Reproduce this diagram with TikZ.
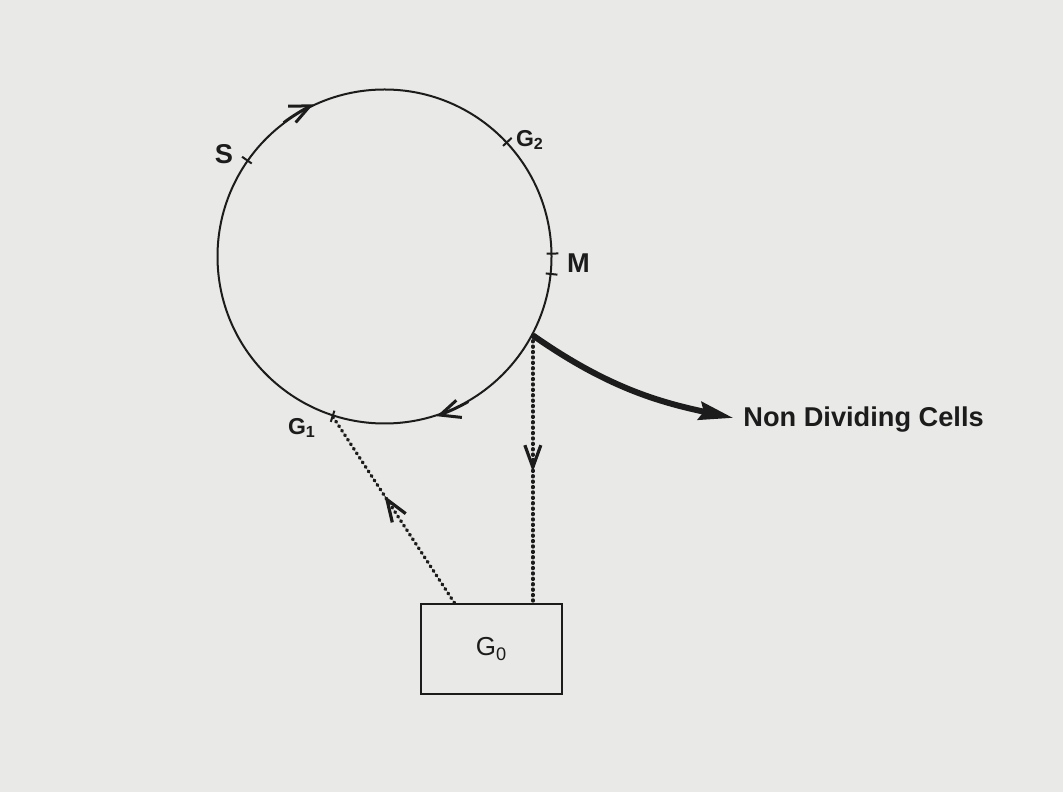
\documentclass[tikz,border=0pt]{standalone}
\usepackage{fontspec}
\setmainfont{Liberation Sans}
\usetikzlibrary{arrows.meta,calc,decorations.markings}
\definecolor{paper}{RGB}{233,233,231}
\definecolor{ink}{RGB}{28,28,28}

\begin{document}
\begin{tikzpicture}[
        x=0.5pt, y=0.5pt,
        phase/.style={circle, draw=ink, line width=1pt, minimum size=167pt, inner sep=0pt},
        tickmark/.style={draw=ink, line width=1pt},
        phasetext/.style={text=ink, inner sep=0pt, font=\fontsize{13.6}{16}\selectfont\bfseries},
        gtext/.style={text=ink, inner sep=0pt, font=\fontsize{11.5}{14}\selectfont\bfseries},
        restbox/.style={draw=ink, line width=1pt, minimum width=70.5pt, minimum height=45pt, text=ink, font=\fontsize{13}{15}\selectfont},
        cyclearrow/.style={draw=ink, line width=1pt, -{Straight Barb[length=10pt, width=9pt, line width=1.5pt]}},
        dotline/.style={draw=ink, line width=1.7pt, line cap=round, dash pattern=on 0.5pt off 2.2pt},
        midarrow/.style={postaction={decorate}, decoration={markings,
            mark=at position #1 with {\arrow[solid]{Straight Barb[length=11pt, width=8pt, line width=1.6pt]}}}},
        exitarrow/.style={draw=ink, line width=3pt, shorten >=5pt, -{Stealth[length=17pt, width=9pt, inset=2pt]}}
    ]
        % Page
        \fill[paper] (0,0) rectangle (1063,792);
        \useasboundingbox (0,0) rectangle (1063,792);

        % Cell cycle
        \node[phase] (cycle) at (384.5,535.5) {};
        \foreach \a in {145.6,43,1,-6.5,-108}
            \draw[tickmark] ($(cycle.center)!0.965!(cycle.\a)$) -- ($(cycle.center)!1.035!(cycle.\a)$);
        \draw[cyclearrow] (cycle.127) arc[start angle=127, end angle=115, radius=167];
        \draw[cyclearrow] (cycle.-60) arc[start angle=-60, end angle=-72, radius=167];

        % Phase labels
        \node[phasetext] (s) at (224,638) {S};
        \node[gtext] (g2) at (530,652) {G\textsubscript{2}};
        \node[phasetext] (m) at (578.5,529) {M};
        \node[gtext] (g1) at (302,364) {G\textsubscript{1}};

        % Resting state and exit
        \node[restbox] (g0) at (491.5,143) {G\textsubscript{0}};
        \node[phasetext, anchor=west] (ndc) at (743,372) {Non Dividing Cells};
        \coordinate (g0in) at ($(g0.north west)!0.241!(g0.north east)$);

        % Transitions
        \draw[exitarrow] (cycle.-28) to[out=-35, in=168] (ndc.west);
        \draw[dotline, midarrow=0.51] (cycle.-28) -- (cycle.-28 |- g0.north);
        \draw[dotline, midarrow=0.575] (g0in) -- (cycle.-108);
    \end{tikzpicture}
\end{document}
